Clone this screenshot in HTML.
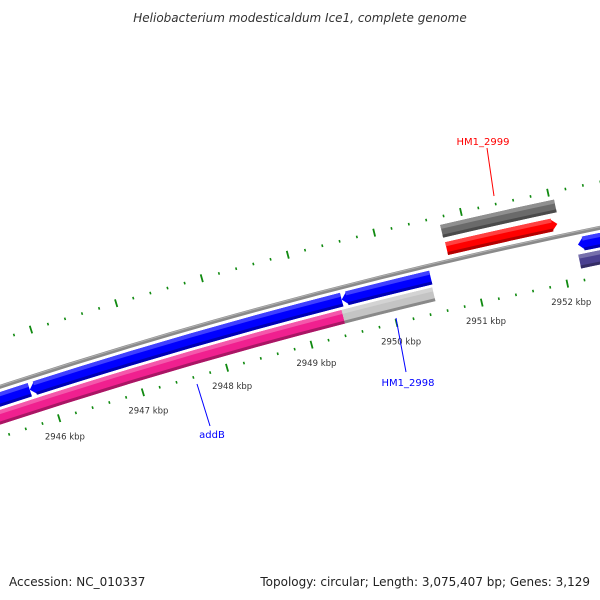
<!DOCTYPE html>
<html><head><meta charset="utf-8"><style>
html,body{margin:0;padding:0;background:#fff;}
svg{display:block;font-family:"DejaVu Sans","Liberation Sans",sans-serif;}
</style></head><body>
<svg id="map" width="600" height="600" viewBox="0 0 600 600" xmlns="http://www.w3.org/2000/svg">
<rect width="600" height="600" fill="#fff"/>
<text x="300" y="22" text-anchor="middle" font-size="12" font-style="italic" fill="#333">Heliobacterium modesticaldum Ice1, complete genome</text>
<g id="ticks"></g>
<g id="feats"></g>
<g id="labels">
<line x1="487" y1="148" x2="494" y2="196" stroke="#f00" stroke-width="1"/>
<text x="483" y="145" text-anchor="middle" font-size="10" fill="#f00">HM1_2999</text>
<line x1="396" y1="318" x2="406" y2="372" stroke="#00f" stroke-width="1"/>
<text x="408" y="386" text-anchor="middle" font-size="10" fill="#00f">HM1_2998</text>
<line x1="197" y1="384" x2="210" y2="426" stroke="#00f" stroke-width="1"/>
<text x="212" y="438" text-anchor="middle" font-size="10" fill="#00f">addB</text>
</g>
<text x="9" y="586" font-size="12" fill="#222">Accession: NC_010337</text>
<text x="590" y="586" text-anchor="end" font-size="12" fill="#222">Topology: circular; Length: 3,075,407 bp; Genes: 3,129</text>
</svg>
<script>
// feature data (kbp)
const featStart = [2940.0, 2945.78, 2949.46, 2940.0, 2949.43, 2952.21, 2952.19, 2950.74, 2950.75];
const featEnd   = [2945.78, 2949.46, 2950.50, 2949.43, 2950.49, 2960.0, 2960.0, 2952.05, 2952.03];
const featTrack = [2, 2, 2, 3, 3, 2, 3, 0, 1];
const featStrand = [0, -1, -1, 0, 0, -1, 0, 0, 1];
const featColor = ["#0000ff","#0000ff","#0000ff","#f0208f","#c4c4c4","#0000ff","#4a4090","#6a6a6a","#ff0000"];
const featName = ["gene-blue-a","gene-blue-b","gene-hm1-2998","gene-addb","gene-hm1-2998-light","gene-blue-right","gene-navy-right","gene-hm1-2999-gray","gene-hm1-2999"];
const tickLabels = [2946, 2947, 2948, 2949, 2950, 2951, 2952];

const CX = 1681, CY = 5518.5;
const K0 = 2946, PHI0 = -17.64, DEG_PER_KBP = 0.9383;
const TRACK_R = [[5424,5437],[5406,5419],[5381,5395],[5364,5378]];
const R_BACK = 5400, R_TIN = 5352, R_TOUT = 5445, R_LAB = 5333;
const NS = "http://www.w3.org/2000/svg";

function ang(k){ return (PHI0 + (k - K0) * DEG_PER_KBP) * Math.PI / 180; }
function pt(k, r){ const a = ang(k); return [CX + r*Math.sin(a), CY - r*Math.cos(a)]; }
function P(p){ return p[0].toFixed(2)+","+p[1].toFixed(2); }
function arcPath(k1,k2,r){ const a=pt(k1,r), b=pt(k2,r); return "M"+P(a)+" A"+r+","+r+" 0 0 1 "+P(b); }
function band(k1,k2,r1,r2,strand){
  const tipLen = 0.075, mid = (r1+r2)/2;
  let d;
  if (strand === -1){
    const b1 = k1 + tipLen;
    d = "M"+P(pt(k1,mid))+" L"+P(pt(b1,r2))+" A"+r2+","+r2+" 0 0 1 "+P(pt(k2,r2))+
        " L"+P(pt(k2,r1))+" A"+r1+","+r1+" 0 0 0 "+P(pt(b1,r1))+" Z";
  } else if (strand === 1){
    const b2 = k2 - tipLen;
    d = "M"+P(pt(k1,r2))+" A"+r2+","+r2+" 0 0 1 "+P(pt(b2,r2))+" L"+P(pt(k2,mid))+
        " L"+P(pt(b2,r1))+" A"+r1+","+r1+" 0 0 0 "+P(pt(k1,r1))+" Z";
  } else {
    d = "M"+P(pt(k1,r2))+" A"+r2+","+r2+" 0 0 1 "+P(pt(k2,r2))+
        " L"+P(pt(k2,r1))+" A"+r1+","+r1+" 0 0 0 "+P(pt(k1,r1))+" Z";
  }
  return d;
}
function shade(hex, f){
  const n = parseInt(hex.slice(1),16); let r=n>>16,g=(n>>8)&255,b=n&255;
  if (f>0){ r+= (255-r)*f; g+=(255-g)*f; b+=(255-b)*f; } else { r*=1+f; g*=1+f; b*=1+f; }
  return "rgb("+Math.round(r)+","+Math.round(g)+","+Math.round(b)+")";
}

const ticks = document.getElementById("ticks");
// backbone
const bb = document.createElementNS(NS,"path");
bb.setAttribute("d", arcPath(2938, 2958, R_BACK));
bb.setAttribute("stroke","#8a8a8a"); bb.setAttribute("stroke-width","4"); bb.setAttribute("fill","none");


ticks.appendChild(bb);
const bb2 = document.createElementNS(NS,"path");
bb2.setAttribute("d", arcPath(2938, 2958, R_BACK+1));
bb2.setAttribute("stroke","#b0b0b0"); bb2.setAttribute("stroke-width","1"); bb2.setAttribute("fill","none");


ticks.appendChild(bb2);

// tick marks on both rings
for (let i = 0; i <= 100; i++){
  const k = 2940 + i*0.2;
  const major = (i % 5 === 0);
  const half = major ? 4 : 1.3;
  [R_TIN, R_TOUT].forEach((R, ri) => {
    const a = pt(k, R-half), b = pt(k, R+half);
    const ln = document.createElementNS(NS,"line");
    ln.setAttribute("x1",a[0]); ln.setAttribute("y1",a[1]);
    ln.setAttribute("x2",b[0]); ln.setAttribute("y2",b[1]);
    ln.setAttribute("stroke","#108a10"); ln.setAttribute("stroke-width", major ? "1.8" : "1.6");
    
    
    ticks.appendChild(ln);
  });
}
tickLabels.forEach(k => {
  const p = pt(k, R_LAB);
  const t = document.createElementNS(NS,"text");
  t.setAttribute("x", p[0].toFixed(1)); t.setAttribute("y", (p[1]+3).toFixed(1));
  t.setAttribute("text-anchor","middle"); t.setAttribute("font-size","8.5"); t.setAttribute("fill","#333");
  t.textContent = k + " kbp";
  
  
  ticks.appendChild(t);
});

// features
const feats = document.getElementById("feats");
for (let i = 0; i < featStart.length; i++){
  const [r1, r2] = TRACK_R[featTrack[i]];
  const g = document.createElementNS(NS,"g");
  
  
  const body = document.createElementNS(NS,"path");
  body.setAttribute("d", band(featStart[i], featEnd[i], r1, r2, featStrand[i]));
  body.setAttribute("fill", featColor[i]);
  g.appendChild(body);
  // light top stripe
  const top = document.createElementNS(NS,"path");
  top.setAttribute("d", band(featStart[i] + (featStrand[i]===-1?0.06:0), featEnd[i] - (featStrand[i]===1?0.06:0), r2-4, r2, 0));
  top.setAttribute("fill", shade(featColor[i], 0.25));
  g.appendChild(top);
  // dark bottom stripe
  const bot = document.createElementNS(NS,"path");
  bot.setAttribute("d", band(featStart[i] + (featStrand[i]===-1?0.06:0), featEnd[i] - (featStrand[i]===1?0.06:0), r1, r1+3, 0));
  bot.setAttribute("fill", shade(featColor[i], -0.3));
  g.appendChild(bot);
  feats.appendChild(g);
}
</script>
</body></html>
